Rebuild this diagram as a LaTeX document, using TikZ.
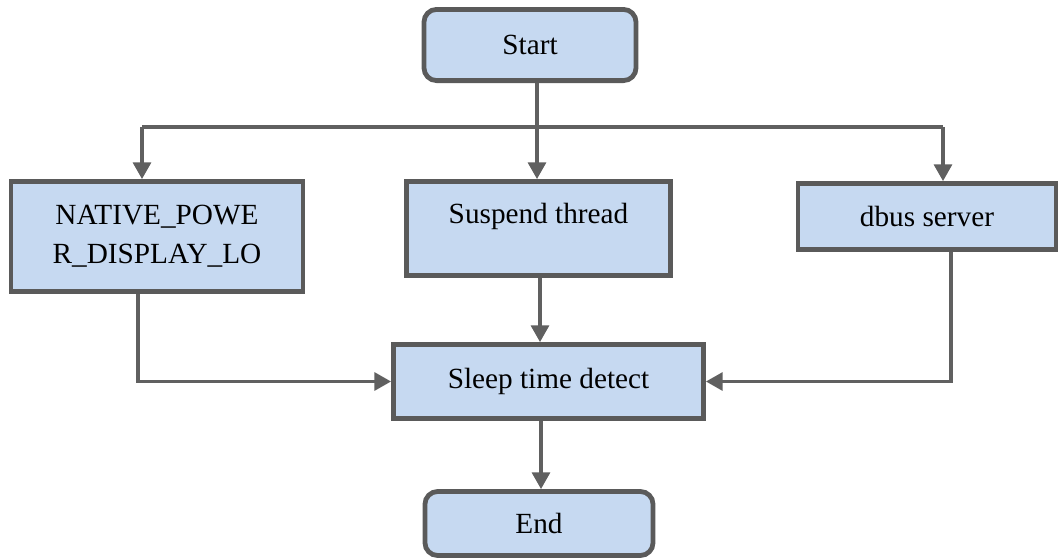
\documentclass[tikz,border=0pt]{standalone}
\usepackage{fontspec}
\setmainfont{Liberation Serif}
\usepackage{xcolor}
\usetikzlibrary{arrows.meta}
\definecolor{boxfill}{HTML}{C6D9F1}
\definecolor{boxline}{HTML}{5A5A5A}
\definecolor{flowline}{HTML}{606060}

\tikzset{
  box/.style={draw=boxline, line width=3.4pt, fill=boxfill, inner sep=0pt,
    font=\fontsize{20.8}{28}\selectfont, align=center},
  term/.style={box, rounded corners=9pt},
  flow/.style={draw=flowline, line width=2.4pt,
    -{Triangle[length=0.42cm,width=0.45cm]}}
}

\begin{document}
\begin{tikzpicture}[x=0.025cm, y=-0.025cm]
  \useasboundingbox (0,0) rectangle (1060,559);

  % Boxes
  \node[term, minimum width=5.3cm, minimum height=1.78cm] (start) at (530,45) {Start};
  \node[box, minimum width=7.3cm, minimum height=2.75cm] (native) at (157,236.5) {NATIVE\_POWE\\R\_DISPLAY\_LO};
  \node[box, minimum width=6.6cm, minimum height=2.35cm, text depth=0.75cm] (suspend) at (538.5,228.5) {Suspend thread};
  \node[box, minimum width=6.45cm, minimum height=1.65cm] (dbus) at (927,216.5) {dbus server};
  \node[box, minimum width=7.75cm, minimum height=1.85cm] (sleep) at (548.5,381.5) {Sleep time detect};
  \node[term, minimum width=5.7cm, minimum height=1.6cm] (end) at (539,523.5) {End};

  % Branches from start
  \coordinate (split) at (537,127);
  \draw[draw=flowline, line width=2.4pt] (start.south -| split) -- (split);
  \draw[draw=flowline, line width=2.4pt] (142,127) -- (943,127);
  \draw[flow] (142,127) -- (native.north -| 142,0);
  \draw[flow] (split) -- (suspend.north -| split);
  \draw[flow] (943,127) -- (dbus.north -| 943,0);

  % Into sleep time detect
  \draw[flow] (suspend.south -| 540,0) -- (sleep.north -| 540,0);
  \draw[flow] (native.south -| 138,0) |- (sleep.west);
  \draw[flow] (dbus.south -| 951,0) |- (sleep.east);

  % End
  \draw[flow] (sleep.south -| 541,0) -- (end.north -| 541,0);
\end{tikzpicture}
\end{document}
